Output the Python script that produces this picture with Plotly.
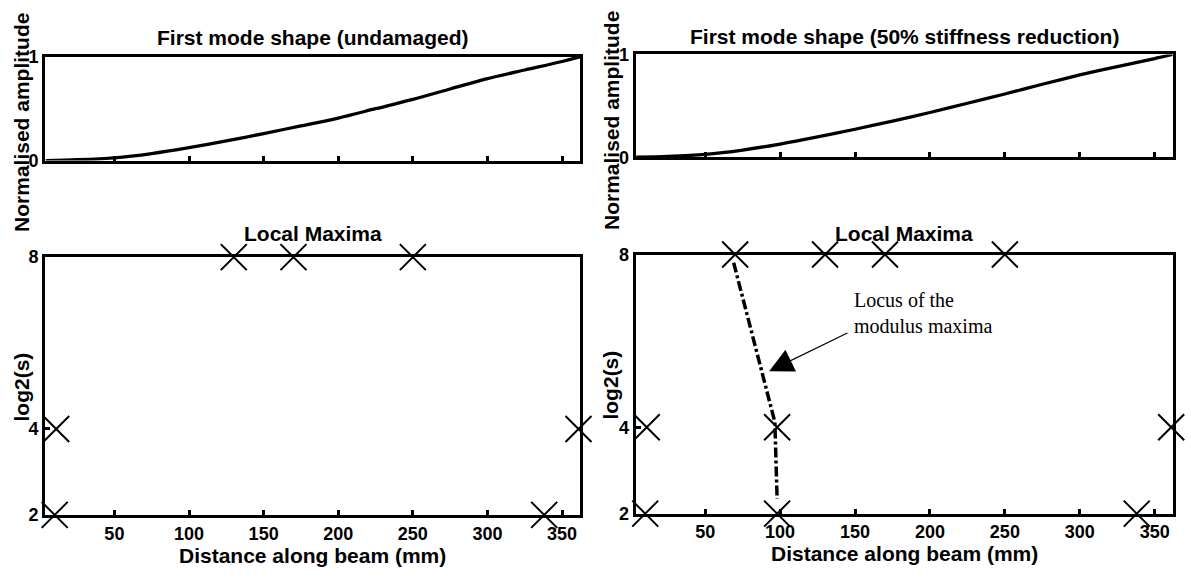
import plotly.graph_objects as go

W, H = 1191, 578

# ---- data ----
dist_mm = [4, 25, 50, 75, 100, 125, 150, 175, 200, 225, 250, 275, 300, 325, 350, 362]
amp_undamaged = [0, 0.008, 0.027, 0.068, 0.125, 0.19, 0.26, 0.335, 0.41, 0.50, 0.59, 0.69, 0.79, 0.873, 0.955, 1.0]
amp_damaged = [0, 0.008, 0.028, 0.07, 0.128, 0.197, 0.272, 0.352, 0.435, 0.525, 0.615, 0.71, 0.80, 0.882, 0.96, 1.0]

maxima_undamaged_x = [10, 11, 130, 170, 250, 338, 361]
maxima_undamaged_s = [2, 4, 8, 8, 8, 2, 4]
maxima_damaged_x = [10, 11, 70, 98, 98, 130, 170, 250, 338, 361]
maxima_damaged_s = [2, 4, 8, 4, 2, 8, 8, 8, 2, 4]

locus_x = [69, 96.5, 98]
locus_s = [7.81, 4.12, 2.34]

x_ticks = [50, 100, 150, 200, 250, 300, 350]
amp_ticks = [0, 1]
scale_ticks = [2, 4, 8]

BOLD = dict(family="Liberation Sans, Arial, sans-serif", size=18, color="black", weight="bold")
TITLE = dict(family="Liberation Sans, Arial, sans-serif", size=21, color="black", weight="bold")


def px(x):
    return x / W


def py(y):
    return 1 - y / H


fig = go.Figure()

fig.add_trace(go.Scatter(x=dist_mm, y=amp_undamaged, mode="lines",
                         line=dict(color="black", width=3.3, shape="spline", smoothing=0.8),
                         xaxis="x", yaxis="y", cliponaxis=False, showlegend=False))
fig.add_trace(go.Scatter(x=dist_mm, y=amp_damaged, mode="lines",
                         line=dict(color="black", width=3.3, shape="spline", smoothing=0.8),
                         xaxis="x2", yaxis="y2", cliponaxis=False, showlegend=False))

mk = dict(symbol="x-thin-open", size=26, color="black", line=dict(color="black", width=2))
fig.add_trace(go.Scatter(x=maxima_undamaged_x, y=maxima_undamaged_s, mode="markers", marker=mk,
                         xaxis="x3", yaxis="y3", cliponaxis=False, showlegend=False))
fig.add_trace(go.Scatter(x=locus_x, y=locus_s, mode="lines",
                         line=dict(color="black", width=3.5, dash="10px,3px,3px,3px"),
                         xaxis="x4", yaxis="y4", cliponaxis=False, showlegend=False))
fig.add_trace(go.Scatter(x=maxima_damaged_x, y=maxima_damaged_s, mode="markers", marker=mk,
                         xaxis="x4", yaxis="y4", cliponaxis=False, showlegend=False))

common = dict(showline=True, linewidth=3, linecolor="black", mirror=True, ticks="inside", ticklen=5,
              tickwidth=3, tickcolor="black", showgrid=False, zeroline=False, tickfont=BOLD, fixedrange=True)

xr = [3.5, 362]
boxes = {
    "1": ((45, 580), (48.5, 156)),
    "2": ((635.5, 1172.7), (46, 152.5)),
    "3": ((45, 580), (256, 523)),
    "4": ((635.5, 1172.7), (253.3, 521.7)),
}
layout = {}
for k, ((x0, x1), (y0, y1)) in boxes.items():
    xn = "xaxis" if k == "1" else "xaxis" + k
    yn = "yaxis" if k == "1" else "yaxis" + k
    yref = "y" if k == "1" else "y" + k
    xref = "x" if k == "1" else "x" + k
    bottom = k in ("3", "4")
    layout[xn] = dict(domain=[px(x0), px(x1)], anchor=yref, range=xr, tickvals=x_ticks,
                      showticklabels=bottom, **common)
    layout[yn] = dict(domain=[py(y1), py(y0)], anchor=xref,
                      range=[2, 8] if bottom else [0, 1],
                      tickvals=scale_ticks if bottom else amp_ticks, **common)

fig.update_layout(**layout)

ann = []
# titles
for txt, cx, cy in [("First mode shape (undamaged)", 312.5, 29),
                    ("First mode shape (50% stiffness reduction)", 904, 27),
                    ("Local Maxima", 312.5, 232),
                    ("Local Maxima", 904, 231)]:
    ann.append(dict(text=txt, x=px(cx), y=py(cy), xref="paper", yref="paper", showarrow=False,
                    xanchor="center", yanchor="middle", font=TITLE))
# y labels
for txt, cx, cy in [("Normalised amplitude", 22, 117), ("Normalised amplitude", 611, 115),
                    ("log2(s)", 21, 391), ("log2(s)", 611, 389)]:
    ann.append(dict(text=txt, x=px(cx), y=py(cy), xref="paper", yref="paper", showarrow=False,
                    xanchor="center", yanchor="middle", textangle=-90, font=TITLE))
# x labels
for cx, cy in ((312.5, 565), (904, 563)):
    ann.append(dict(text="Distance along beam (mm)", x=px(cx), y=py(cy), xref="paper", yref="paper",
                    showarrow=False, xanchor="center", yanchor="middle", font=TITLE))

# locus annotation
ann.append(dict(text="Locus of the<br>modulus maxima", x=148, y=6.64, xref="x4", yref="y4", showarrow=False,
                xanchor="left", yanchor="middle", align="left",
                font=dict(family="Liberation Serif, Times New Roman, serif", size=20, color="black")))
ann.append(dict(text="", x=92.7, y=5.30, xref="x4", yref="y4", ax=145.9, ay=6.2, axref="x4", ayref="y4",
                showarrow=True, arrowhead=2, arrowsize=4, arrowwidth=1.2, arrowcolor="black", standoff=0))

fig.update_layout(annotations=ann, width=W, height=H, margin=dict(l=0, r=0, t=0, b=0),
                  paper_bgcolor="white", plot_bgcolor="white", showlegend=False)

fig.write_html("out.html", config={"displayModeBar": False},
               post_script="document.body.style.margin='0px';document.body.style.padding='0px';")
